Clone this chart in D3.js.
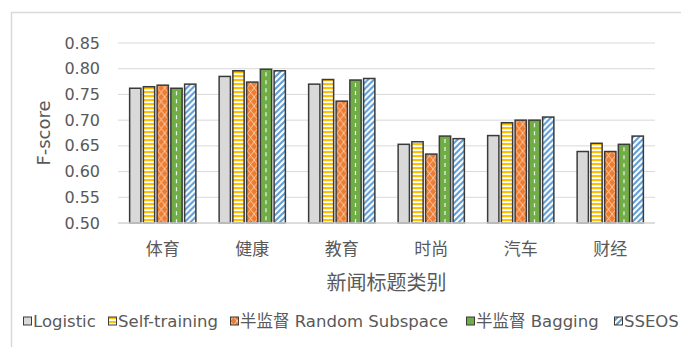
<!DOCTYPE html>
<html>
<head>
<meta charset="utf-8">
<script src="https://cdn.jsdelivr.net/npm/d3@7"></script>
<style>
  body { margin: 0; background: #fff; }
  svg text { font-family: "DejaVu Sans", "Noto Sans CJK SC", sans-serif; fill: #595959; }
</style>
</head>
<body>
<svg id="chart" width="681" height="347"></svg>
<script>
var categories = ['体育', '健康', '教育', '时尚', '汽车', '财经'];
var seriesNames = ['Logistic', 'Self-training', '半监督 Random Subspace', '半监督 Bagging', 'SSEOS'];
var logistic    = [0.762, 0.785, 0.770, 0.653, 0.670, 0.639];
var selfTrain   = [0.765, 0.796, 0.779, 0.658, 0.695, 0.655];
var randSub     = [0.768, 0.774, 0.737, 0.634, 0.700, 0.639];
var bagging     = [0.762, 0.799, 0.778, 0.669, 0.700, 0.653];
var sseos       = [0.770, 0.796, 0.781, 0.664, 0.706, 0.669];
var yTicks = [0.50, 0.55, 0.60, 0.65, 0.70, 0.75, 0.80, 0.85];

var allSeries = [logistic, selfTrain, randSub, bagging, sseos];
var fills = ['#d9d9d9', 'url(#p-self)', 'url(#p-rand)', '#70ad47', 'url(#p-sseos)'];

var svg = d3.select('#chart'),
    margin = { top: 43, right: 26, bottom: 124, left: 118 },
    width = 681 - margin.left - margin.right,
    height = 347 - margin.top - margin.bottom;

// outer frame
svg.append('path').attr('d', 'M11.5,347 V12.5 H681').attr('fill', 'none').attr('stroke', '#d9d9d9').attr('stroke-width', 1.5);

var defs = svg.append('defs');
var pSelf = defs.append('pattern').attr('id', 'p-self').attr('patternUnits', 'userSpaceOnUse').attr('width', 4).attr('height', 4);
pSelf.append('rect').attr('width', 4).attr('height', 4).attr('fill', '#fff');
pSelf.append('rect').attr('width', 4).attr('height', 2.2).attr('fill', '#ffc000');

var pRand = defs.append('pattern').attr('id', 'p-rand').attr('patternUnits', 'userSpaceOnUse').attr('width', 7).attr('height', 9);
pRand.append('rect').attr('width', 7).attr('height', 9).attr('fill', '#ed7d31');
pRand.append('path').attr('d', 'M0,0 L7,9 M7,0 L0,9').attr('stroke', '#fbd5bd').attr('stroke-width', 0.9);

var pSseos = defs.append('pattern').attr('id', 'p-sseos').attr('patternUnits', 'userSpaceOnUse').attr('width', 6).attr('height', 6);
pSseos.append('rect').attr('width', 6).attr('height', 6).attr('fill', '#fff');
pSseos.append('path').attr('d', 'M-1.5,7.5 L7.5,-1.5 M-1.5,1.5 L1.5,-1.5 M4.5,7.5 L7.5,4.5').attr('stroke', '#5b9bd5').attr('stroke-width', 2);

var g = svg.append('g').attr('transform', 'translate(' + margin.left + ',' + margin.top + ')');

var scaleX = d3.scaleBand().domain(categories).range([0, width]).paddingInner(0.26).paddingOuter(0.13);
var scaleS = d3.scaleBand().domain(d3.range(allSeries.length)).range([0, scaleX.bandwidth()]).paddingInner(0.18);
var scaleY = d3.scaleLinear().domain([0.5, 0.85]).range([height, 0]);

// grid
g.selectAll('.grid').data(yTicks).enter().append('line')
  .attr('x1', 0).attr('x2', width)
  .attr('y1', function(d) { return scaleY(d); }).attr('y2', function(d) { return scaleY(d); })
  .attr('stroke', '#d9d9d9').attr('stroke-width', 1);

var yAxis = d3.axisLeft(scaleY).tickValues(yTicks).tickSize(0).tickPadding(18).tickFormat(d3.format('.2f'));
var yG = g.append('g').call(yAxis);
yG.select('.domain').remove();
yG.selectAll('text').attr('font-size', 16).attr('fill', '#595959');

// bars
var groups = g.selectAll('.grp').data(categories).enter().append('g')
  .attr('transform', function(d) { return 'translate(' + scaleX(d) + ',0)'; });

groups.each(function(cat, ci) {
  var gg = d3.select(this);
  allSeries.forEach(function(s, si) {
    var x = scaleS(si), w = scaleS.bandwidth();
    gg.append('rect')
      .attr('x', x).attr('y', scaleY(s[ci]))
      .attr('width', w).attr('height', height - scaleY(s[ci]))
      .attr('fill', fills[si]).attr('stroke', '#3a3a3a').attr('stroke-width', 1.5);
    if (si === 3) {
      gg.append('line')
        .attr('x1', x + w / 2).attr('x2', x + w / 2)
        .attr('y1', scaleY(s[ci]) + 3).attr('y2', height)
        .attr('stroke', '#eef5e8').attr('stroke-width', 1.2).attr('stroke-dasharray', '4,4');
    }
  });
});

// x axis
g.append('line').attr('x1', 0).attr('x2', width).attr('y1', height).attr('y2', height).attr('stroke', '#d9d9d9').attr('stroke-width', 1.5);
var xAxis = d3.axisBottom(scaleX).tickSize(0).tickPadding(20);
var xG = g.append('g').attr('transform', 'translate(0,' + height + ')').call(xAxis);
xG.select('.domain').remove();
xG.selectAll('text').attr('font-size', 17).attr('fill', '#595959');

// axis titles
svg.append('text').attr('transform', 'translate(50,' + (margin.top + height / 2) + ') rotate(-90)')
  .attr('text-anchor', 'middle').attr('font-size', 18).text('F-score');
svg.append('text').attr('x', margin.left + width / 2).attr('y', 290)
  .attr('text-anchor', 'middle').attr('font-size', 20).text('新闻标题类别');

// legend
var legendX = [23, 108, 230, 466, 614];
var legend = svg.selectAll('.leg').data(seriesNames).enter().append('g')
  .attr('transform', function(d, i) { return 'translate(' + legendX[i] + ',321)'; });
legend.append('rect').attr('x', 0.5).attr('y', -4).attr('width', 8).attr('height', 8)
  .attr('fill', function(d, i) { return fills[i]; }).attr('stroke', '#3a3a3a').attr('stroke-width', 1);
legend.append('text').attr('x', 10).attr('y', 6).attr('font-size', 16.5).text(function(d) { return d; });
</script>
</body>
</html>
